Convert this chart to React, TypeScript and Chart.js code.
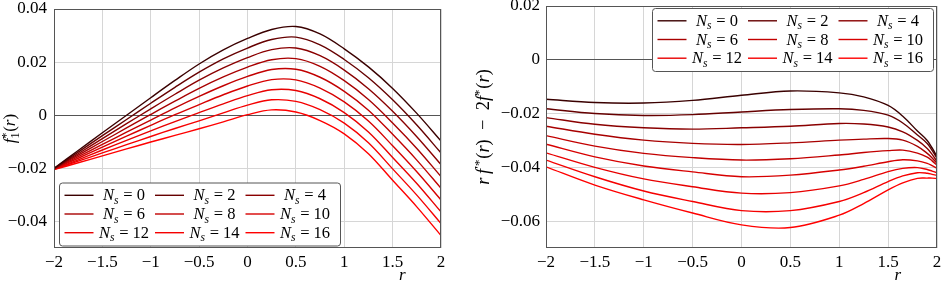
import React, { useEffect, useRef } from "react";
import { Chart, registerables } from "chart.js";

Chart.register(...registerables);

const FONT = '"Liberation Serif", "Times New Roman", serif';

// ---------- data ----------
const nsValues = [0, 2, 4, 6, 8, 10, 12, 14, 16];
const seriesColors = ["#3a0000", "#660000", "#8a0000", "#a80000", "#c20000", "#d70000", "#e80000", "#f50000", "#ff0000"];

// left panel: f1*(r)
const leftR = [-2, -1.75, -1.5, -1.25, -1, -0.75, -0.5, -0.25, 0, 0.25, 0.5, 0.75, 1, 1.25, 1.5, 1.75, 2];
const leftNs0 = [-0.0200, -0.0133, -0.0066, 0.0000, 0.0066, 0.0131, 0.0193, 0.0246, 0.0289, 0.0323, 0.0334, 0.0306, 0.0250, 0.0182, 0.0101, 0.0007, -0.0097];
const leftNs2 = [-0.0201, -0.0139, -0.0077, -0.0016, 0.0045, 0.0105, 0.0162, 0.0212, 0.0253, 0.0285, 0.0294, 0.0265, 0.0210, 0.0141, 0.0058, -0.0037, -0.0142];
const leftNs4 = [-0.0201, -0.0145, -0.0088, -0.0032, 0.0024, 0.0079, 0.0132, 0.0178, 0.0217, 0.0247, 0.0253, 0.0224, 0.0170, 0.0100, 0.0015, -0.0081, -0.0186];
const leftNs6 = [-0.0202, -0.0150, -0.0099, -0.0048, 0.0003, 0.0053, 0.0101, 0.0144, 0.0181, 0.0209, 0.0213, 0.0184, 0.0130, 0.0059, -0.0029, -0.0125, -0.0231];
const leftNs8 = [-0.0203, -0.0156, -0.0110, -0.0064, -0.0018, 0.0028, 0.0071, 0.0111, 0.0146, 0.0172, 0.0173, 0.0143, 0.0090, 0.0019, -0.0072, -0.0169, -0.0275];
const leftNs10 = [-0.0203, -0.0162, -0.0120, -0.0079, -0.0038, 0.0002, 0.0040, 0.0077, 0.0110, 0.0134, 0.0133, 0.0102, 0.0050, -0.0022, -0.0115, -0.0213, -0.0319];
const leftNs12 = [-0.0204, -0.0168, -0.0131, -0.0095, -0.0059, -0.0024, 0.0010, 0.0043, 0.0074, 0.0096, 0.0093, 0.0062, 0.0010, -0.0063, -0.0159, -0.0257, -0.0364];
const leftNs14 = [-0.0204, -0.0173, -0.0142, -0.0111, -0.0080, -0.0050, -0.0021, 0.0009, 0.0038, 0.0058, 0.0052, 0.0021, -0.0030, -0.0104, -0.0202, -0.0301, -0.0408];
const leftNs16 = [-0.0205, -0.0179, -0.0153, -0.0127, -0.0101, -0.0076, -0.0051, -0.0025, 0.0002, 0.0020, 0.0012, -0.0020, -0.0070, -0.0145, -0.0245, -0.0345, -0.0453];

// right panel: r f'*(r) - 2 f*(r)
const rightR = [-2, -1.5, -1, -0.5, 0, 0.5, 1, 1.25, 1.5, 1.65, 1.8, 1.9, 1.95, 2];
const rightNs0 = [-0.0147, -0.0159, -0.0161, -0.0151, -0.0132, -0.0116, -0.0123, -0.0138, -0.0170, -0.0210, -0.0265, -0.0300, -0.0328, -0.0360];
const rightNs2 = [-0.0182, -0.0200, -0.0207, -0.0204, -0.0194, -0.0185, -0.0182, -0.0188, -0.0206, -0.0235, -0.0280, -0.0311, -0.0337, -0.0366];
const rightNs4 = [-0.0215, -0.0240, -0.0253, -0.0258, -0.0253, -0.0247, -0.0237, -0.0239, -0.0250, -0.0268, -0.0300, -0.0330, -0.0352, -0.0378];
const rightNs6 = [-0.0247, -0.0277, -0.0299, -0.0311, -0.0315, -0.0309, -0.0299, -0.0295, -0.0293, -0.0299, -0.0322, -0.0348, -0.0365, -0.0385];
const rightNs8 = [-0.0282, -0.0321, -0.0348, -0.0364, -0.0373, -0.0368, -0.0354, -0.0345, -0.0338, -0.0336, -0.0347, -0.0362, -0.0376, -0.0392];
const rightNs10 = [-0.0314, -0.0361, -0.0395, -0.0417, -0.0435, -0.0429, -0.0410, -0.0396, -0.0379, -0.0372, -0.0376, -0.0385, -0.0394, -0.0404];
const rightNs12 = [-0.0346, -0.0400, -0.0443, -0.0472, -0.0496, -0.0494, -0.0469, -0.0445, -0.0416, -0.0404, -0.0401, -0.0408, -0.0414, -0.0420];
const rightNs14 = [-0.0373, -0.0435, -0.0488, -0.0527, -0.0561, -0.0561, -0.0527, -0.0494, -0.0453, -0.0432, -0.0420, -0.0422, -0.0426, -0.0430];
const rightNs16 = [-0.0398, -0.0466, -0.0521, -0.0570, -0.0614, -0.0624, -0.0578, -0.0535, -0.0484, -0.0458, -0.0441, -0.0440, -0.0440, -0.0442];

// ticks
const xTicks = [-2, -1.5, -1, -0.5, 0, 0.5, 1, 1.5, 2];
const xTickLabels = ["\u22122", "\u22121.5", "\u22121", "\u22120.5", "0", "0.5", "1", "1.5", "2"];
const leftYTicks = [-0.04, -0.02, 0, 0.02, 0.04];
const leftYTickLabels = ["\u22120.04", "\u22120.02", "0", "0.02", "0.04"];
const rightYTicks = [-0.06, -0.04, -0.02, 0, 0.02];
const rightYTickLabels = ["\u22120.06", "\u22120.04", "\u22120.02", "0", "0.02"];

// ---------- rich text helper ----------
type Seg = { t?: string; it?: boolean; sub?: string; sup?: string; subIt?: boolean };

function richText(ctx: CanvasRenderingContext2D, segs: Seg[], size: number, x0: number, y0: number, draw: boolean) {
  let x = x0;
  for (const s of segs) {
    if (s.sub !== undefined || s.sup !== undefined) {
      const ss = size * 0.7;
      let w = 0;
      if (s.sup) {
        ctx.font = `${ss}px ${FONT}`;
        if (draw) ctx.fillText(s.sup, x, y0 - size * 0.3);
        w = Math.max(w, ctx.measureText(s.sup).width);
      }
      if (s.sub) {
        ctx.font = `${s.subIt ? "italic " : ""}${ss}px ${FONT}`;
        if (draw) ctx.fillText(s.sub, x, y0 + size * 0.22);
        w = Math.max(w, ctx.measureText(s.sub).width);
      }
      x += w + size * 0.04;
    } else {
      ctx.font = `${s.it ? "italic " : ""}${size}px ${FONT}`;
      if (draw) ctx.fillText(s.t || "", x, y0);
      x += ctx.measureText(s.t || "").width;
    }
  }
  return x - x0;
}

type Panel = {
  r: number[];
  series: number[][];
  yMin: number;
  yMax: number;
  yTicks: number[];
  yTickLabels: string[];
  yAxisWidth: number;
  padTop: number;
  padRight: number;
  yTickPad: number;
  legendPos: "bl" | "tr";
  yLabel: Seg[];
  yLabelSize: number;
  yLabelX: number;
};

function makeChart(canvas: HTMLCanvasElement, p: Panel) {
  const datasets = p.series.map((vals, i) => ({
    label: "N_s = " + nsValues[i],
    data: p.r.map((x, j) => ({ x, y: vals[j] })),
    borderColor: seriesColors[i],
    backgroundColor: seriesColors[i],
    borderWidth: 1.4,
    pointRadius: 0,
    tension: 0.35,
    fill: false,
  }));

  const deco = {
    id: "deco",
    afterDraw(chart: any) {
      const ctx: CanvasRenderingContext2D = chart.ctx;
      const ca = chart.chartArea;
      ctx.save();
      // frame
      ctx.strokeStyle = "#555";
      ctx.lineWidth = 1;
      ctx.strokeRect(Math.round(ca.left) + 0.5, Math.round(ca.top) + 0.5, Math.round(ca.right - ca.left) - 1, Math.round(ca.bottom - ca.top) - 1);

      // legend
      const bw = 281, bh = 63;
      const bx = p.legendPos === "bl" ? ca.left + 5 : ca.right - 4 - bw;
      const by = p.legendPos === "bl" ? ca.bottom - 2.5 - bh : ca.top + 2;
      ctx.beginPath();
      if ((ctx as any).roundRect) (ctx as any).roundRect(bx + 0.5, by + 0.5, bw, bh, 3);
      else ctx.rect(bx + 0.5, by + 0.5, bw, bh);
      ctx.fillStyle = "#fff";
      ctx.fill();
      ctx.strokeStyle = "#555";
      ctx.lineWidth = 1;
      ctx.stroke();
      chart.data.datasets.forEach((ds: any, i: number) => {
        const col = i % 3;
        const row = Math.floor(i / 3);
        const ly = by + 12.8 + row * 18.7;
        const lx = bx + 5.5 + col * 90.5;
        ctx.beginPath();
        ctx.moveTo(lx, ly);
        ctx.lineTo(lx + 29, ly);
        ctx.strokeStyle = ds.borderColor;
        ctx.lineWidth = 1.4;
        ctx.stroke();
        const segs: Seg[] = [{ t: "N", it: true }, { sub: "s", subIt: true }, { t: " = " + nsValues[i] }];
        ctx.fillStyle = "#000";
        ctx.textBaseline = "alphabetic";
        ctx.textAlign = "left";
        const w = richText(ctx, segs, 16.5, 0, 0, false);
        const cx = bx + 65 + col * 90.5;
        richText(ctx, segs, 16.5, cx - w / 2, ly + 5, true);
      });

      // x axis label "r"
      const xs = chart.scales.x;
      ctx.fillStyle = "#000";
      ctx.font = `italic 17px ${FONT}`;
      ctx.textAlign = "center";
      ctx.textBaseline = "alphabetic";
      ctx.fillText("r", xs.getPixelForValue(1.6), 280);

      // y axis label (rotated)
      ctx.textAlign = "left";
      const lw = richText(ctx, p.yLabel, p.yLabelSize, 0, 0, false);
      ctx.translate(p.yLabelX, (ca.top + ca.bottom) / 2);
      ctx.rotate(-Math.PI / 2);
      richText(ctx, p.yLabel, p.yLabelSize, -lw / 2, 0, true);
      ctx.restore();
    },
  };

  return new Chart(canvas, {
    type: "line",
    data: { datasets },
    options: {
      animation: false,
      responsive: false,
      devicePixelRatio: 1,
      layout: { padding: { top: p.padTop, right: p.padRight, left: 0, bottom: 0 } },
      plugins: { legend: { display: false }, tooltip: { enabled: false } },
      scales: {
        x: {
          type: "linear",
          min: -2,
          max: 2,
          afterBuildTicks: (s: any) => {
            s.ticks = xTicks.map((v) => ({ value: v }));
          },
          afterFit: (s: any) => {
            s.height = 34;
            s.paddingLeft = 0;
            s.paddingRight = 0;
          },
          ticks: {
            autoSkip: false,
            maxRotation: 0,
            padding: 4,
            color: "#000",
            font: { family: FONT, size: 17 },
            callback: (_v: any, i: number) => xTickLabels[i],
          },
          grid: { color: "#d6d6d6", lineWidth: 1, drawTicks: false },
          border: { display: false },
        },
        y: {
          type: "linear",
          min: p.yMin,
          max: p.yMax,
          afterBuildTicks: (s: any) => {
            s.ticks = p.yTicks.map((v) => ({ value: v }));
          },
          afterFit: (s: any) => {
            s.width = p.yAxisWidth;
            s.paddingTop = 0;
            s.paddingBottom = 0;
          },
          ticks: {
            autoSkip: false,
            padding: p.yTickPad,
            color: "#000",
            font: { family: FONT, size: 17 },
            callback: (_v: any, i: number) => p.yTickLabels[i],
          },
          grid: {
            color: (c: any) => (c.tick && Math.abs(c.tick.value) < 1e-12 ? "#555" : "#d6d6d6"),
            lineWidth: 1,
            drawTicks: false,
          },
          border: { display: false },
        },
      },
    },
    plugins: [deco],
  } as any);
}

const leftPanel: Panel = {
  r: leftR,
  series: [leftNs0, leftNs2, leftNs4, leftNs6, leftNs8, leftNs10, leftNs12, leftNs14, leftNs16],
  yMin: -0.05,
  yMax: 0.04,
  yTicks: leftYTicks,
  yTickLabels: leftYTickLabels,
  yAxisWidth: 54,
  padTop: 9,
  padRight: 29,
  yTickPad: 7,
  legendPos: "bl",
  yLabel: [{ t: "f", it: true }, { sub: "1", sup: "*" }, { t: "(" }, { t: "r", it: true }, { t: ")" }],
  yLabelSize: 17,
  yLabelX: 15,
};

const rightPanel: Panel = {
  r: rightR,
  series: [rightNs0, rightNs2, rightNs4, rightNs6, rightNs8, rightNs10, rightNs12, rightNs14, rightNs16],
  yMin: -0.07,
  yMax: 0.02,
  yTicks: rightYTicks,
  yTickLabels: rightYTickLabels,
  yAxisWidth: 76,
  padTop: 6,
  padRight: 4,
  yTickPad: 6,
  legendPos: "tr",
  yLabel: [
    { t: "r", it: true },
    { t: "\u2009" },
    { t: "f", it: true },
    { sup: "\u2032*" },
    { t: "(" },
    { t: "r", it: true },
    { t: ")\u2002\u2212\u20022" },
    { t: "f", it: true },
    { sup: "*" },
    { t: "(" },
    { t: "r", it: true },
    { t: ")" },
  ],
  yLabelSize: 18.5,
  yLabelX: 19,
};

function ChartCanvas({ panel, left, width }: { panel: Panel; left: number; width: number }) {
  const ref = useRef<HTMLCanvasElement | null>(null);
  useEffect(() => {
    if (!ref.current) return;
    const ch = makeChart(ref.current, panel);
    return () => ch.destroy();
  }, [panel]);
  return (
    <canvas
      ref={ref}
      width={width}
      height={282}
      style={{ position: "absolute", left, top: 0, width, height: 282, display: "block" }}
    />
  );
}

export default function App() {
  return (
    <div style={{ position: "fixed", left: 0, top: 0, width: 941, height: 282, background: "#fff", overflow: "hidden" }}>
      <ChartCanvas panel={leftPanel} left={0} width={470} />
      <ChartCanvas panel={rightPanel} left={470} width={471} />
    </div>
  );
}
